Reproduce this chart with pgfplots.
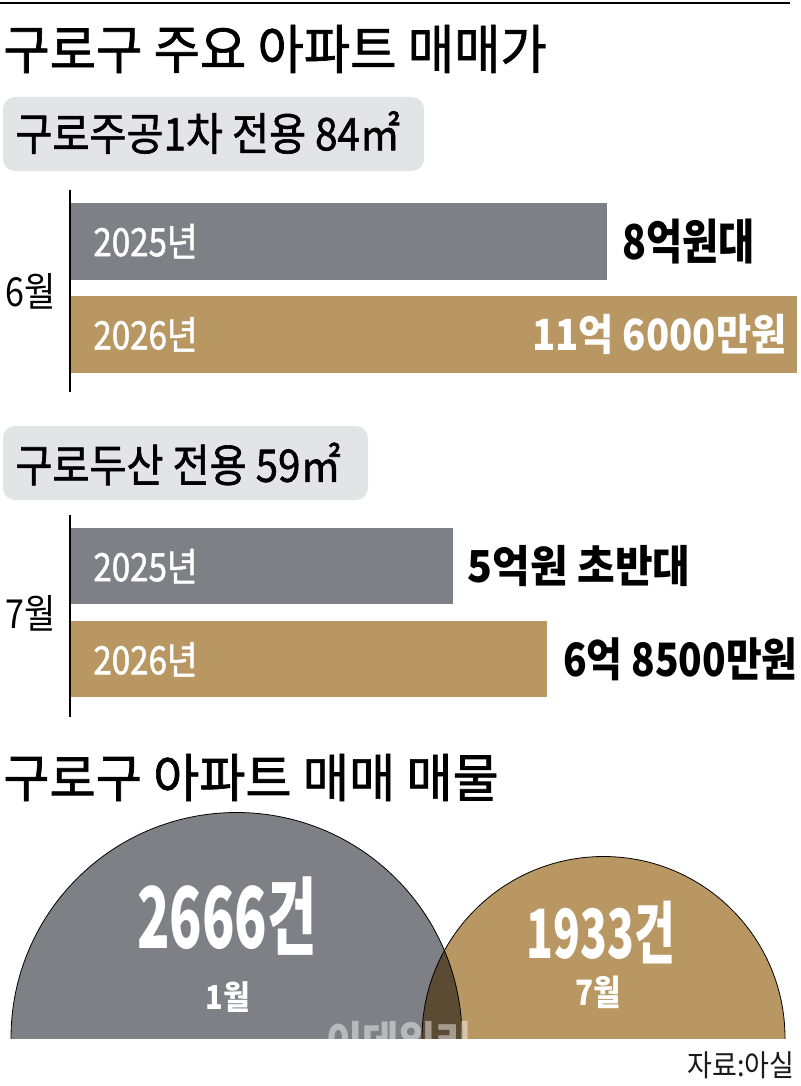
\documentclass[border=0pt]{standalone}
\usepackage{fontspec}
\setmainfont{Noto Sans CJK KR}
\usepackage{pgfplots}
\pgfplotsset{compat=1.18}
\definecolor{barGrey}{HTML}{7F8085}
\definecolor{barGold}{HTML}{B99763}
\definecolor{boxGrey}{HTML}{E3E4E6}
\definecolor{srcText}{HTML}{1A1A1A}
\newcommand\lab[3]{{\fontsize{#1}{#1}\selectfont\addfontfeature{FakeStretch=#2}#3}}
\newcommand\labm[3]{{\fontsize{#1}{#1}\selectfont\addfontfeature{FakeStretch=#2,FakeBold=1.3}#3}}
\newcommand\labb[3]{{\fontsize{#1}{#1}\selectfont\bfseries\addfontfeature{FakeStretch=#2}#3}}
\pgfplotsset{baraxis/.style={anchor=north west, width=365pt, height=101pt,
  scale only axis, xmin=0, ymin=-0.62, ymax=1.55, hide axis, clip=false}}
\begin{document}
\begin{tikzpicture}
\useasboundingbox (0,0) rectangle (400pt,-543pt);
% top rule
\draw[line width=1pt] (0,-1.5pt) -- (395pt,-1.5pt);
% title 1
\node[anchor=west, inner sep=0pt] at (1.5pt,-24.5pt) {\labm{26.5pt}{0.95}{구로구 주요 아파트 매매가}};
% box 1
\fill[boxGrey, rounded corners=6pt] (1.5pt,-48.5pt) rectangle (212pt,-85.5pt);
\node[anchor=west, inner sep=0pt] at (7.5pt,-66.25pt) {\labm{22.5pt}{0.895}{구로주공1차 전용 84㎡}};
\node[anchor=west, inner sep=0pt] at (2.5pt,-145.5pt) {\lab{20pt}{0.85}{6월}};
% box 2
\fill[boxGrey, rounded corners=6pt] (1.5pt,-213pt) rectangle (184pt,-250pt);
\node[anchor=west, inner sep=0pt] at (7.5pt,-232pt) {\labm{22.5pt}{0.895}{구로두산 전용 59㎡}};
\node[anchor=west, inner sep=0pt] at (2.5pt,-306.5pt) {\lab{20pt}{0.85}{7월}};
% title 2
\node[anchor=west, inner sep=0pt] at (1.5pt,-388.75pt) {\labm{26pt}{0.965}{구로구 아파트 매매 매물}};
% source
\node[anchor=east, inner sep=0pt, text=srcText] at (397.5pt,-532.5pt) {\lab{15pt}{0.9}{자료:아실}};

% group 1 bars (unit: 억원)
\begin{axis}[baraxis, at={(35pt,-95pt)}, xmax=11.648]
\addplot[xbar, bar width=0.828, bar shift=0pt, fill=barGrey, draw=none] coordinates {(8.57,1)};
\addplot[xbar, bar width=0.828, bar shift=0pt, fill=barGold, draw=none] coordinates {(11.6,0)};
\draw[line width=1.1pt] (axis cs:0,-0.62) -- (axis cs:0,1.55);
\node[anchor=west, inner sep=0pt, text=white, xshift=11.5pt] at (axis cs:0,1) {\labm{19.5pt}{0.85}{2025년}};
\node[anchor=west, inner sep=0pt, text=white, xshift=11.5pt] at (axis cs:0,0) {\labm{19.5pt}{0.85}{2026년}};
\node[anchor=west, inner sep=0pt, xshift=7.5pt] at (axis cs:8.57,1) {\labb{24pt}{0.82}{8억원대}};
\node[anchor=east, inner sep=0pt, text=white, xshift=-5pt] at (axis cs:11.6,0) {\labb{21.5pt}{0.89}{11억 6000만원}};
\end{axis}

% group 2 bars (unit: 억원)
\begin{axis}[baraxis, at={(35pt,-257.5pt)}, xmax=10.49]
\addplot[xbar, bar width=0.82, bar shift=0pt, fill=barGrey, draw=none] coordinates {(5.51,1)};
\addplot[xbar, bar width=0.82, bar shift=0pt, fill=barGold, draw=none] coordinates {(6.85,0)};
\draw[line width=1.1pt] (axis cs:0,-0.62) -- (axis cs:0,1.55);
\node[anchor=west, inner sep=0pt, text=white, xshift=11.5pt] at (axis cs:0,1) {\labm{19.5pt}{0.85}{2025년}};
\node[anchor=west, inner sep=0pt, text=white, xshift=11.5pt] at (axis cs:0,0) {\labm{19.5pt}{0.85}{2026년}};
\node[anchor=west, inner sep=0pt, xshift=7pt] at (axis cs:5.51,1) {\labb{22pt}{0.93}{5억원 초반대}};
\node[anchor=west, inner sep=0pt, xshift=8pt] at (axis cs:6.85,0) {\labb{23pt}{0.845}{6억 8500만원}};
\end{axis}

% listings: half circles
\begin{axis}[at={(0pt,-519pt)}, anchor=south west, width=400pt, height=125pt,
  scale only axis, xmin=0, xmax=800, ymin=0, ymax=250, hide axis,
  clip marker paths=true]
\addplot[only marks, mark=*, mark size=112.75pt, mark options={fill=barGrey, draw=none}] coordinates {(236.5,0)};
\addplot[only marks, mark=*, mark size=90.75pt, mark options={fill=barGold, draw=none, blend mode=multiply}] coordinates {(603.5,0)};
\node[text=white, inner sep=0pt] at (axis cs:227,122) {\labb{42.5pt}{0.63}{2666건}};
\node[text=white, inner sep=0pt] at (axis cs:228,40.5) {\labb{16.5pt}{0.88}{1월}};
\node[text=white, inner sep=0pt] at (axis cs:600.5,105) {\labb{34pt}{0.65}{1933건}};
\node[text=white, inner sep=0pt] at (axis cs:598.5,45.5) {\labb{17.5pt}{0.85}{7월}};
\node[text=white, opacity=0.45, inner sep=0pt] at (axis cs:399,-4) {\labb{22pt}{0.9}{이데일리}};
\end{axis}
\end{tikzpicture}
\end{document}
